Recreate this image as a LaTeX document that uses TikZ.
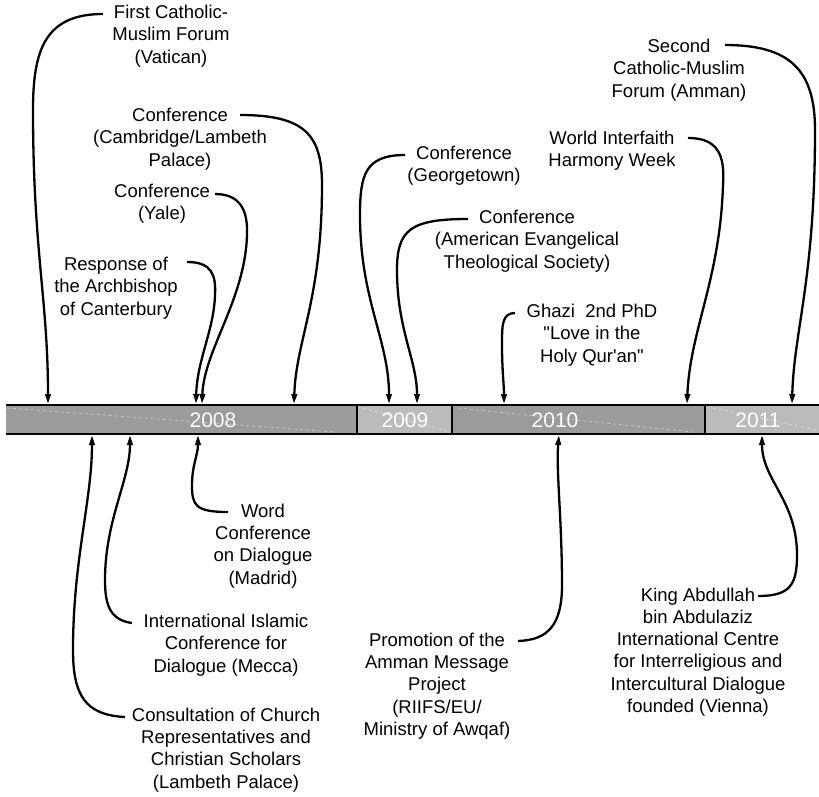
\documentclass[tikz,border=0pt]{standalone}
\usepackage{fontspec}
\setmainfont{Liberation Sans}
\usetikzlibrary{arrows.meta}
\definecolor{bardark}{HTML}{9B9B9B}
\definecolor{barlight}{HTML}{BBBBBB}
\newcommand\labfont{\fontsize{18.5}{22.3}\selectfont}
\newcommand\yrfont{\fontsize{21}{24}\selectfont}
\tikzset{
  lab/.style={align=center, inner sep=0pt, font=\labfont},
  conn/.style={line width=2.3pt, -{Triangle[length=10pt,width=5.5pt]}},
  yrlab/.style={text=white, inner sep=0pt, font=\yrfont},
  barline/.style={line width=2.4pt},
  shine/.style={white, dashed, opacity=0.5, line width=0.7pt}
}
\begin{document}
\begin{tikzpicture}[x=1pt,y=-1pt]
\useasboundingbox (0,0) rectangle (819,796);
\fill[white] (0,0) rectangle (819,796);
% bar
\fill[bardark] (6,405) rectangle (357,434);
\fill[barlight] (357,405) rectangle (452,434);
\fill[bardark] (452,405) rectangle (705,434);
\fill[barlight] (705,405) rectangle (819,434);
\draw[shine] (7,408) -- (335,432);
\draw[shine] (363,408) -- (450,432);
\draw[shine] (458,408) -- (693,432);
\draw[shine] (713,408) -- (817,430);
\node[yrlab] (y2008) at (213,420) {2008};
\node[yrlab] (y2009) at (405,420) {2009};
\node[yrlab] (y2010) at (555,420) {2010};
\node[yrlab] (y2011) at (758,420) {2011};
\draw[barline] (6,405) -- (819,405);
\draw[barline] (6,434) -- (819,434);
\draw[barline] (357,405) -- (357,434);
\draw[barline] (452,405) -- (452,434);
\draw[barline] (705,405) -- (705,434);
% top labels
\node[lab] (l1) at (171,36) {First Catholic-\\Muslim Forum\\(Vatican)};
\node[lab] (l2) at (180,139) {Conference\\(Cambridge/Lambeth\\Palace)};
\node[lab] (l3) at (162,204) {Conference\\(Yale)};
\node[lab] (l4) at (116,288) {Response of\\the Archbishop\\of Canterbury};
\node[lab] (l5) at (464,166) {Conference\\(Georgetown)};
\node[lab] (l6) at (527,241) {Conference\\(American Evangelical\\Theological Society)};
\node[lab] (l7) at (592,335) {Ghazi\ \ 2nd PhD\\\textquotedbl Love in the\\Holy Qur\textquotesingle an\textquotedbl};
\node[lab] (l8) at (612,151) {World Interfaith\\Harmony Week};
\node[lab] (l9) at (679,70) {Second\\Catholic-Muslim\\Forum (Amman)};
% bottom labels
\node[lab] (l10) at (263,546) {Word\\Conference\\on Dialogue\\(Madrid)};
\node[lab] (l11) at (226,645) {International Islamic\\Conference for\\Dialogue (Mecca)};
\node[lab] (l12) at (226,750) {Consultation of Church\\Representatives and\\Christian Scholars\\(Lambeth Palace)};
\node[lab] (l13) at (437,686) {Promotion of the\\Amman Message\\Project\\(RIIFS/EU/\\Ministry of Awqaf)};
\node[lab] (l14) at (698,652) {King Abdullah\\bin Abdulaziz\\International Centre\\for Interreligious and\\Intercultural Dialogue\\founded (Vienna)};
% connector start points
\coordinate (s1) at (103,14);
\coordinate (s2) at (240,115);
\coordinate (s3) at (215,194);
\coordinate (s4) at (187,262);
\coordinate (s5) at (405,155);
\coordinate (s6) at (468,219);
\coordinate (s7) at (515,313);
\coordinate (s8) at (688,138);
\coordinate (s9) at (725,45);
\coordinate (s10) at (228,512);
\coordinate (s11) at (132,623);
\coordinate (s12) at (125,717);
\coordinate (s13) at (518,641);
\coordinate (s14) at (758,596);
% connector end points on the bar
\coordinate (t1) at (48,404);
\coordinate (t2) at (294,404);
\coordinate (t3) at (202,404);
\coordinate (t4) at (196,404);
\coordinate (t5) at (389,404);
\coordinate (t6) at (417,404);
\coordinate (t7) at (504,404);
\coordinate (t8) at (687,404);
\coordinate (t9) at (792,404);
\coordinate (t10) at (198,435);
\coordinate (t11) at (130,435);
\coordinate (t12) at (92,435);
\coordinate (t13) at (559,435);
\coordinate (t14) at (762,435);
% connectors
\draw[conn] (s1) .. controls (45,14) and (33,50) .. (33,110) .. controls (33,250) and (48,300) .. (t1);
\draw[conn] (s2) .. controls (305,115) and (322,135) .. (322,185) .. controls (322,300) and (296,340) .. (t2);
\draw[conn] (s3) .. controls (240,194) and (248,210) .. (247,235) .. controls (245,300) and (204,350) .. (t3);
\draw[conn] (s4) .. controls (212,262) and (216,275) .. (215,295) .. controls (214,330) and (197,360) .. (t4);
\draw[conn] (s5) .. controls (365,155) and (360,175) .. (360,215) .. controls (360,300) and (389,340) .. (t5);
\draw[conn] (s6) .. controls (410,219) and (397,230) .. (397,270) .. controls (397,330) and (417,360) .. (t6);
\draw[conn] (s7) .. controls (502,313) and (502,325) .. (502,345) .. controls (502,370) and (504,385) .. (t7);
\draw[conn] (s8) .. controls (718,138) and (725,155) .. (723,185) .. controls (720,280) and (690,330) .. (t8);
\draw[conn] (s9) .. controls (790,45) and (815,70) .. (815,130) .. controls (815,280) and (794,330) .. (t9);
\draw[conn] (s10) .. controls (195,512) and (192,505) .. (192,485) .. controls (192,465) and (198,455) .. (t10);
\draw[conn] (s11) .. controls (110,620) and (105,605) .. (105,580) .. controls (105,520) and (130,480) .. (t11);
\draw[conn] (s12) .. controls (85,715) and (73,695) .. (73,650) .. controls (73,560) and (92,500) .. (t12);
\draw[conn] (s13) .. controls (548,640) and (562,625) .. (562,585) .. controls (562,520) and (556,470) .. (t13);
\draw[conn] (s14) .. controls (790,596) and (797,585) .. (797,555) .. controls (797,500) and (762,480) .. (t14);
\end{tikzpicture}
\end{document}
